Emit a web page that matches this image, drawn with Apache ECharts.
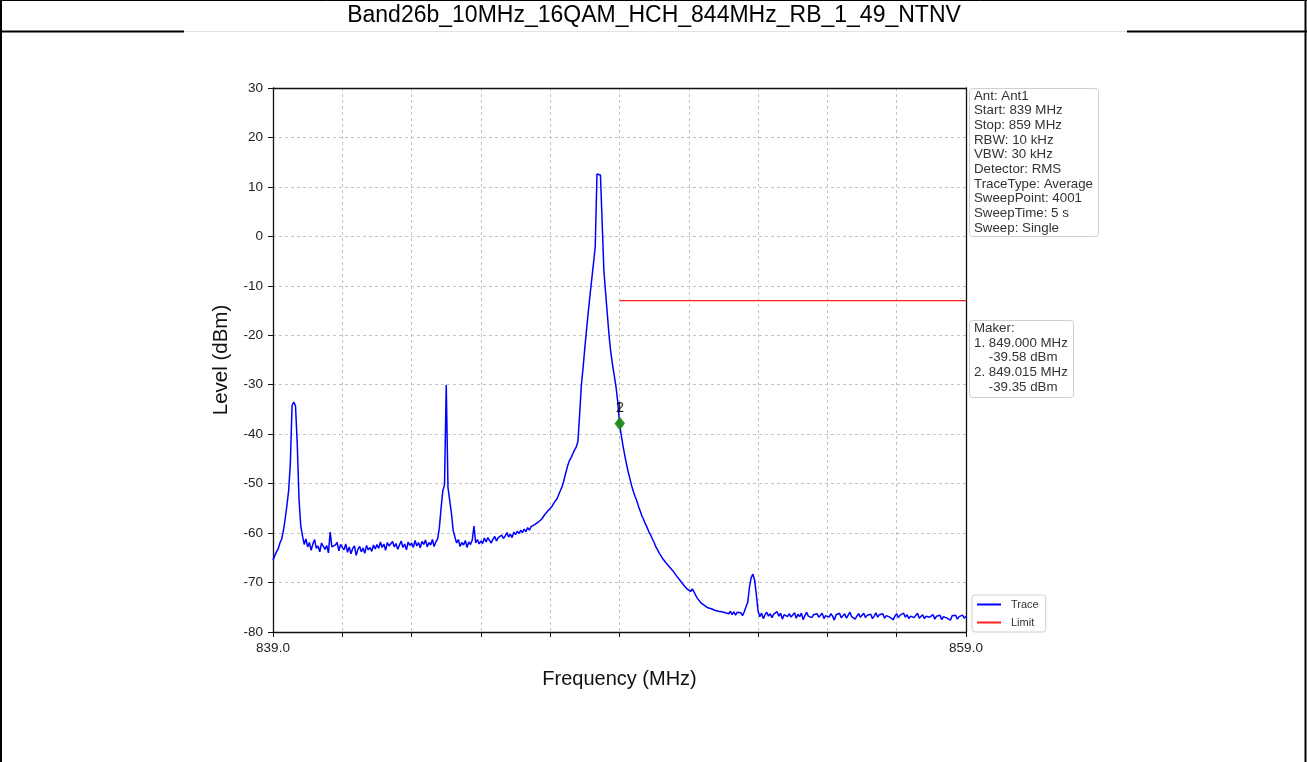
<!DOCTYPE html>
<html>
<head>
<meta charset="utf-8">
<script src="https://cdn.jsdelivr.net/npm/echarts@6/dist/echarts.min.js"></script>
<style>
html,body{margin:0;padding:0;background:#fff;}
#chart{width:1307px;height:762px;}
</style>
</head>
<body>
<div id="chart"></div>
<script>
// ---------- data ----------
const chartTitle = 'Band26b_10MHz_16QAM_HCH_844MHz_RB_1_49_NTNV';
const freqMin = 839;          // MHz
const freqMax = 859;          // MHz
const sweepStep = 0.05;       // MHz between trace samples
const xTickStep = 2;          // MHz between x ticks
const yMin = -80, yMax = 30, yStep = 10;

// Trace levels (dBm), one per 0.05 MHz from 839.00 to 859.00
const level839 = [-65.5,-64.6,-63.8,-63.2,-62.0,-61.2,-59.5,-57.2,-54.5,-51.5,-46.0,-34.2,-33.5,-34.3,-42.0,-53.0,-58.5,-60.5,-62.3,-61.2];
const level840 = [-62.8,-61.9,-63.5,-62.2,-61.3,-63.1,-62.6,-63.8,-62.0,-61.6,-63.3,-62.5,-64.0,-59.8,-62.8,-63.0,-62.4,-61.9,-63.6,-62.3];
const level841 = [-62.9,-63.4,-62.2,-63.9,-62.8,-64.2,-63.1,-62.6,-64.5,-63.3,-62.7,-63.8,-63.0,-64.1,-62.5,-63.4,-62.9,-63.7,-62.4,-63.2];
const level842 = [-62.3,-63.1,-61.8,-62.9,-62.2,-63.5,-61.9,-62.6,-63.0,-61.7,-62.8,-62.1,-63.3,-62.4,-61.6,-62.9,-62.2,-63.4,-61.8,-62.5];
const level843 = [-62.0,-62.9,-61.5,-62.6,-61.9,-63.0,-61.7,-62.3,-61.4,-62.8,-61.9,-62.4,-61.3,-62.7,-61.8,-61.2,-59.0,-55.0,-51.5,-50.2];
const level844 = [-30.0,-50.8,-51.0,-56.0,-59.5,-60.8,-62.0,-61.3,-62.7,-61.9,-62.4,-61.5,-62.9,-61.8,-62.3,-61.4,-58.6,-62.0,-61.3,-62.2];
const level845 = [-61.6,-62.1,-61.0,-61.8,-60.9,-61.5,-62.0,-61.2,-60.7,-61.6,-60.9,-61.3,-60.4,-61.1,-60.6,-59.9,-60.8,-60.2,-60.9,-59.8];
const level846 = [-60.3,-59.6,-60.1,-59.4,-59.9,-59.2,-59.7,-58.9,-59.4,-58.7,-59.1,-58.3,-58.6,-57.8,-57.9,-57.2,-57.0,-56.2,-56.3,-55.4];
const level847 = [-55.2,-54.6,-54.0,-53.6,-53.0,-52.6,-51.3,-50.5,-49.2,-47.8,-46.5,-45.4,-44.8,-44.0,-43.2,-42.6,-41.5,-36.0,-30.0,-26.5];
const level848 = [-22.5,-18.8,-15.2,-11.8,-8.6,-5.4,-2.0,12.6,12.9,12.4,12.7,-7.0,-11.5,-15.8,-20.2,-23.5,-26.0,-28.2,-30.5,-33.5];
const level849 = [-37.8,-40.2,-42.3,-44.2,-46.0,-47.6,-49.0,-50.4,-51.6,-52.6,-53.5,-54.6,-55.6,-56.6,-57.3,-58.2,-58.9,-59.8,-60.4,-61.2];
const level850 = [-61.9,-62.8,-63.4,-64.1,-64.6,-65.2,-65.6,-66.1,-66.4,-66.9,-67.0,-67.7,-68.0,-68.7,-68.9,-69.6,-69.8,-70.5,-70.7,-71.3];
const level851 = [-71.4,-71.8,-71.3,-71.9,-72.6,-73.2,-73.5,-74.1,-74.0,-74.6,-74.5,-75.1,-74.8,-75.3,-75.0,-75.6,-75.2,-75.8,-75.4,-75.9];
const level852 = [-75.5,-76.1,-75.7,-76.3,-75.8,-76.5,-75.9,-76.6,-76.0,-76.4,-76.1,-76.7,-75.9,-76.2,-74.0,-71.0,-69.0,-68.3,-69.5,-72.5];
const level853 = [-75.8,-76.9,-76.2,-77.3,-76.5,-76.0,-76.8,-76.3,-77.1,-76.4,-76.7,-75.9,-76.8,-76.2,-77.4,-76.5,-76.1,-76.9,-76.3,-77.0];
const level854 = [-76.6,-76.1,-77.2,-76.4,-76.9,-76.2,-77.5,-76.7,-76.0,-76.8,-76.4,-77.1,-76.5,-76.9,-76.3,-77.0,-76.6,-76.2,-77.3,-76.7];
const level855 = [-76.4,-77.0,-76.3,-76.8,-77.6,-76.5,-76.9,-76.2,-77.1,-76.7,-76.3,-77.2,-76.6,-76.0,-76.9,-76.5,-77.4,-76.8,-76.3,-77.0];
const level856 = [-76.7,-76.2,-77.1,-76.6,-76.9,-76.4,-77.3,-76.8,-76.1,-77.0,-76.5,-76.9,-76.3,-77.2,-76.7,-76.4,-77.0,-76.6,-77.5,-76.8];
const level857 = [-76.3,-77.1,-76.6,-76.9,-76.2,-77.0,-76.5,-77.3,-76.8,-76.4,-77.1,-76.7,-76.2,-77.2,-76.9,-76.5,-77.3,-76.8,-76.4,-77.0];
const level858 = [-76.9,-76.5,-77.4,-76.8,-77.1,-76.6,-77.5,-76.9,-76.5,-77.2,-76.8,-77.6,-76.7,-77.1,-76.6,-77.4,-76.9,-77.3,-76.6,-77.2];
const level859 = [-76.8];

const limitFreq = [849, 859];
const limitLevel = [-13, -13];

const markerFreq = [849.000, 849.015];
const markerLevel = [-37.9, -37.8];   // position as drawn in the picture
const markerNames = ['1', '2'];

const infoLines = ['Ant: Ant1','Start: 839 MHz','Stop: 859 MHz','RBW: 10 kHz','VBW: 30 kHz','Detector: RMS','TraceType: Average','SweepPoint: 4001','SweepTime: 5 s','Sweep: Single'];
const makerLines = ['Maker:','1. 849.000 MHz','    -39.58 dBm','2. 849.015 MHz','    -39.35 dBm'];

// ---------- build ----------
const levels = [].concat(level839,level840,level841,level842,level843,level844,level845,level846,level847,level848,
                         level849,level850,level851,level852,level853,level854,level855,level856,level857,level858,level859);
const traceData = levels.map((v, i) => [+(freqMin + i * sweepStep).toFixed(3), v]);
const limitData = limitFreq.map((f, i) => [f, limitLevel[i]]);
const markerData = markerFreq.map((f, i) => ({value: [f, markerLevel[i]], name: markerNames[i]}));

const FONT = "'Liberation Sans', Arial, sans-serif";
const chart = echarts.init(document.getElementById('chart'), null, {renderer: 'canvas'});
const span = freqMax - freqMin;
const spine = {color: '#111', width: 1.3};

chart.setOption({
  animation: false,
  backgroundColor: '#fff',
  textStyle: {fontFamily: FONT},
  grid: {left: 273, top: 88, width: 693, height: 544, show: false},
  xAxis: [
    {type: 'value', min: freqMin, max: freqMax, position: 'top',
     axisLine: {show: true, onZero: false, lineStyle: spine}, axisTick: {show: false}, axisLabel: {show: false}, splitLine: {show: false}},
    {type: 'value', min: 0, max: span, interval: xTickStep, position: 'bottom',
     name: 'Frequency (MHz)', nameLocation: 'middle', nameGap: 37,
     nameTextStyle: {fontSize: 20, color: '#111', fontFamily: FONT},
     axisLine: {show: true, onZero: false, lineStyle: spine},
     axisTick: {show: true, length: 5, lineStyle: {color: '#111', width: 1}},
     axisLabel: {fontSize: 13.5, color: '#222', margin: 9, fontFamily: FONT,
                 formatter: v => (v === 0 || v === span) ? (freqMin + v).toFixed(1) : ''},
     splitLine: {show: true, lineStyle: {color: '#c4c4c4', type: [3, 3], width: 1}}}
  ],
  yAxis: [
    {type: 'value', min: yMin, max: yMax, interval: yStep, position: 'left',
    name: 'Level (dBm)', nameLocation: 'middle', nameGap: 41,
    nameTextStyle: {fontSize: 20.5, color: '#111', fontFamily: FONT},
    axisLine: {show: true, onZero: false, lineStyle: spine},
    axisTick: {show: true, length: 5, lineStyle: {color: '#111', width: 1}},
    axisLabel: {fontSize: 13.5, color: '#222', margin: 10, fontFamily: FONT},
    splitLine: {show: true, lineStyle: {color: '#c4c4c4', type: [3, 3], width: 1}}},
    {type: 'value', min: yMin, max: yMax, interval: yStep, position: 'right',
     axisLine: {show: true, onZero: false, lineStyle: spine}, axisTick: {show: false}, axisLabel: {show: false}, splitLine: {show: false}}
  ],
  legend: {
    data: ['Trace', 'Limit'], orient: 'vertical', left: 972, top: 595,
    icon: 'rect', itemWidth: 24, itemHeight: 2, itemGap: 7,
    padding: [4, 7, 4, 5],
    borderColor: '#cfcfcf', borderWidth: 1, borderRadius: 3, backgroundColor: '#fff',
    textStyle: {fontSize: 11, color: '#333', fontFamily: FONT, padding: [0, 0, 0, 5]}
  },
  series: [
    {name: 'Trace', type: 'line', xAxisIndex: 0, data: traceData, symbol: 'none',
     lineStyle: {color: '#0000ff', width: 1.5}, itemStyle: {color: '#0000ff'}, z: 3},
    {name: 'Limit', type: 'line', xAxisIndex: 0, data: limitData, symbol: 'none',
     lineStyle: {color: '#ff2020', width: 1.2}, itemStyle: {color: '#ff2020'}, z: 2},
    {name: 'Markers', type: 'scatter', xAxisIndex: 0, data: markerData, symbol: 'diamond', symbolSize: [10, 13],
     itemStyle: {color: '#1a8c1a'}, z: 5,
     label: {show: true, position: 'top', distance: 2, formatter: p => p.name, fontSize: 14, color: '#000', fontFamily: FONT}}
  ],
  graphic: [
    {type: 'line', shape: {x1: 1, y1: 0, x2: 1, y2: 762}, style: {stroke: '#000', lineWidth: 2}},
    {type: 'line', shape: {x1: 1305.5, y1: 0, x2: 1305.5, y2: 762}, style: {stroke: '#000', lineWidth: 2}},
    {type: 'line', shape: {x1: 0, y1: 0.5, x2: 1307, y2: 0.5}, style: {stroke: '#000', lineWidth: 1}},
    {type: 'line', shape: {x1: 0, y1: 31.5, x2: 184, y2: 31.5}, style: {stroke: '#000', lineWidth: 2}},
    {type: 'line', shape: {x1: 1127, y1: 31.5, x2: 1307, y2: 31.5}, style: {stroke: '#000', lineWidth: 2}},
    {type: 'line', shape: {x1: 184, y1: 31.5, x2: 1127, y2: 31.5}, style: {stroke: '#e2e2e2', lineWidth: 1}},
    {type: 'text', x: 654, y: 16, style: {text: chartTitle, fontSize: 23, fontFamily: FONT, fill: '#000', align: 'center', verticalAlign: 'middle'}},
    {type: 'rect', shape: {x: 969.5, y: 88.5, width: 129, height: 148, r: 3}, style: {fill: '#fff', stroke: '#cfcfcf', lineWidth: 1}, z: 10},
    {type: 'text', x: 974, y: 88.5, z: 11, style: {text: infoLines.join('\n'), fontSize: 13.3, lineHeight: 14.7, fontFamily: FONT, fill: '#333'}},
    {type: 'rect', shape: {x: 969.5, y: 320.5, width: 104, height: 77, r: 3}, style: {fill: '#fff', stroke: '#cfcfcf', lineWidth: 1}, z: 10},
    {type: 'text', x: 974, y: 321, z: 11, style: {text: makerLines.join('\n'), fontSize: 13.3, lineHeight: 14.7, fontFamily: FONT, fill: '#333'}}
  ]
});
</script>
</body>
</html>
